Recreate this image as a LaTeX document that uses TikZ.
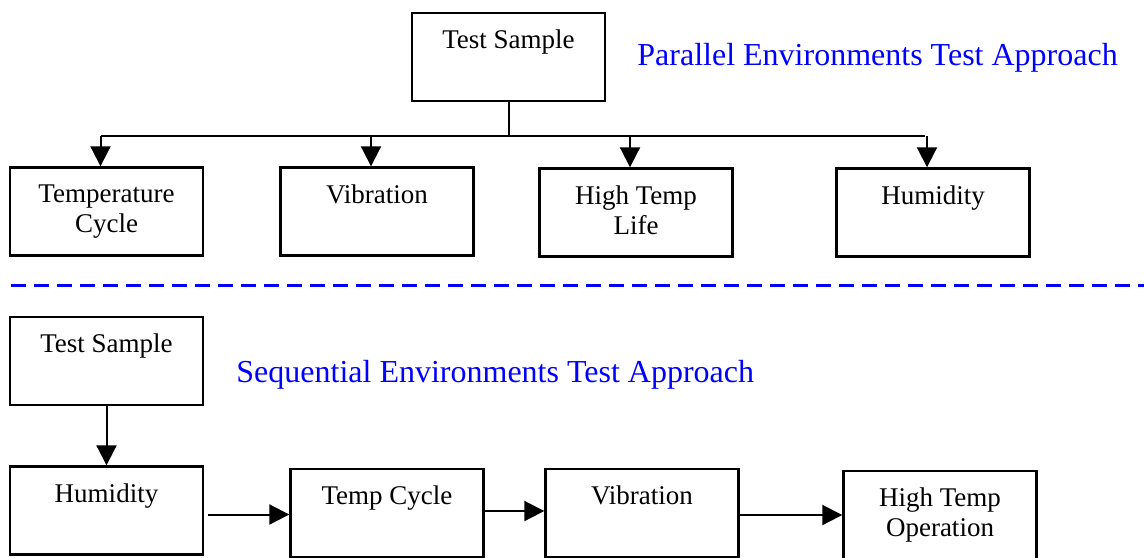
\documentclass[tikz,border=0pt]{standalone}
\usepackage{fontspec}
\setmainfont{Liberation Serif}
\usetikzlibrary{arrows.meta}

\begin{document}
\begin{tikzpicture}[x=0.5pt, y=-0.5pt,
    box/.style={draw, black, line width=1.2pt, minimum width=96.5pt, minimum height=44pt, inner sep=0pt},
    txt/.style={anchor=north, align=center, inner sep=0pt, yshift=-9pt, font=\fontsize{13.5}{15}\selectfont},
    title/.style={anchor=base west, inner sep=0pt, text=blue, font=\fontsize{16}{19}\selectfont},
    line/.style={draw, black, line width=1pt},
    arr/.style={line, -{Triangle[length=10pt, width=10pt]}}]
            \useasboundingbox (0,0) rectangle (1144,557);
            % parallel approach
            \node [box, label={[txt]north:Test Sample}] (ts1) at (508.5,57) {};
            \node [title] (ptitle) at (637,65) {Parallel Environments Test Approach};
            \node [box, label={[txt]north:Temperature\\Cycle}] (tc1) at (106.5,211.5) {};
            \node [box, label={[txt]north:Vibration}] (vib1) at (377,211.5) {};
            \node [box, label={[txt]north:High Temp\\Life}] (htl1) at (636,212.5) {};
            \node [box, label={[txt]north:Humidity}] (hum1) at (933,212.5) {};
            \coordinate (hub) at (508.5,136);
            \draw [line](ts1.south)--(hub);
            \draw [line]([xshift=-3pt]tc1.north |- hub)--([xshift=-4pt]hum1.north |- hub);
            \foreach \n in {tc1,vib1,htl1,hum1}
                \draw [arr]([xshift=-3pt]\n.north |- hub)--([xshift=-3pt]\n.north);
            % separator
            \draw [blue, line width=1.5pt, dash pattern=on 7.5pt off 4pt](11,285)--(1144,285);
            % sequential approach
            \node [box, label={[txt]north:Test Sample}] (ts2) at (106.5,361) {};
            \node [title] (stitle) at (236,382) {Sequential Environments Test Approach};
            \node [box, label={[txt]north:Humidity}] (hum2) at (106.5,510.5) {};
            \node [box, label={[txt]north:Temp Cycle}] (tc2) at (387,513) {};
            \node [box, label={[txt]north:Vibration}] (vib2) at (642,513) {};
            \node [box, label={[txt]north:High Temp\\Operation}] (hto) at (940,515) {};
            \draw [arr](ts2.south)--(hum2.north);
            \draw [arr]([shift={(2pt,-2pt)}]hum2.east)--([yshift=-2pt]hum2.east -| tc2.west);
            \draw [arr]([yshift=1pt]tc2.east)--([yshift=1pt]tc2.east -| vib2.west);
            \draw [arr]([yshift=-1pt]vib2.east)--([yshift=-1pt]vib2.east -| hto.west);
\end{tikzpicture}
\end{document}
